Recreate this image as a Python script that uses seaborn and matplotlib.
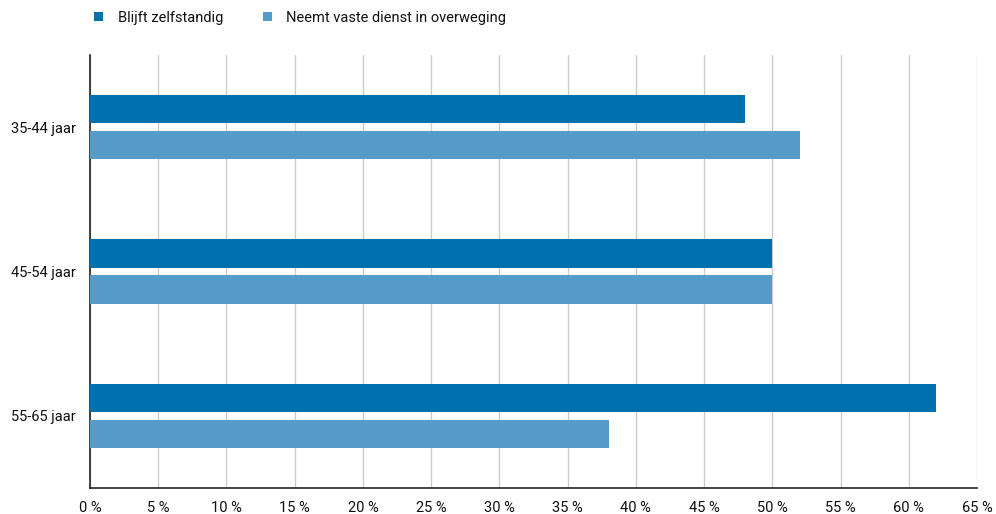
import matplotlib
matplotlib.use("Agg")
import matplotlib.pyplot as plt
import seaborn as sns
import pandas as pd
from matplotlib.patches import Patch

categories = ["35-44 jaar", "45-54 jaar", "55-65 jaar"]
series_names = ["Blijft zelfstandig", "Neemt vaste dienst in overweging"]
blijft = [48, 50, 62]
neemt = [52, 50, 38]
x_ticks = list(range(0, 70, 5))
x_tick_labels = [f"{t} %" for t in x_ticks]

colors = ["#0071ad", "#559ccb"]

df = pd.DataFrame({
    "leeftijd": categories * 2,
    "reeks": [series_names[0]] * 3 + [series_names[1]] * 3,
    "pct": blijft + neemt,
})

sns.set_theme(style="white")
plt.rcParams["font.family"] = ["Roboto", "DejaVu Sans"]

fig = plt.figure(figsize=(9.96, 5.14), dpi=100)
ax = fig.add_axes([90 / 996, 1 - 488 / 514, (977 - 90) / 996, (488 - 55) / 514])

sns.barplot(data=df, y="leeftijd", x="pct", hue="reeks", order=categories,
            hue_order=series_names, palette=colors, orient="h",
            width=0.5, gap=0.22, saturation=1, legend=False, ax=ax,
            zorder=3, linewidth=0)

ax.set_xlim(0, 65)
ax.set_ylim(2.5, -0.5)
ax.set_xticks(x_ticks)
ax.set_xticklabels(x_tick_labels, fontsize=10.5, color="#111111")
ax.tick_params(axis="y", labelsize=10.5, colors="#111111", length=0, pad=10)
ax.tick_params(axis="x", length=0, pad=9)
ax.set_xlabel("")
ax.set_ylabel("")
ax.grid(axis="x", color="#cccccc", linewidth=1, zorder=0)
for side in ["top", "right"]:
    ax.spines[side].set_visible(False)
for side in ["left", "bottom"]:
    ax.spines[side].set_color("#222222")
    ax.spines[side].set_linewidth(1.2)

handles = [Patch(facecolor=c, edgecolor="none") for c in colors]
fig.legend(handles, series_names, loc="upper left", bbox_to_anchor=(81 / 996, 1.005),
           ncol=2, frameon=False, fontsize=10.5, handlelength=0.62, handleheight=0.62,
           handletextpad=1.0, columnspacing=2.7, labelcolor="#111111")

fig.savefig("out.png", dpi=100)
